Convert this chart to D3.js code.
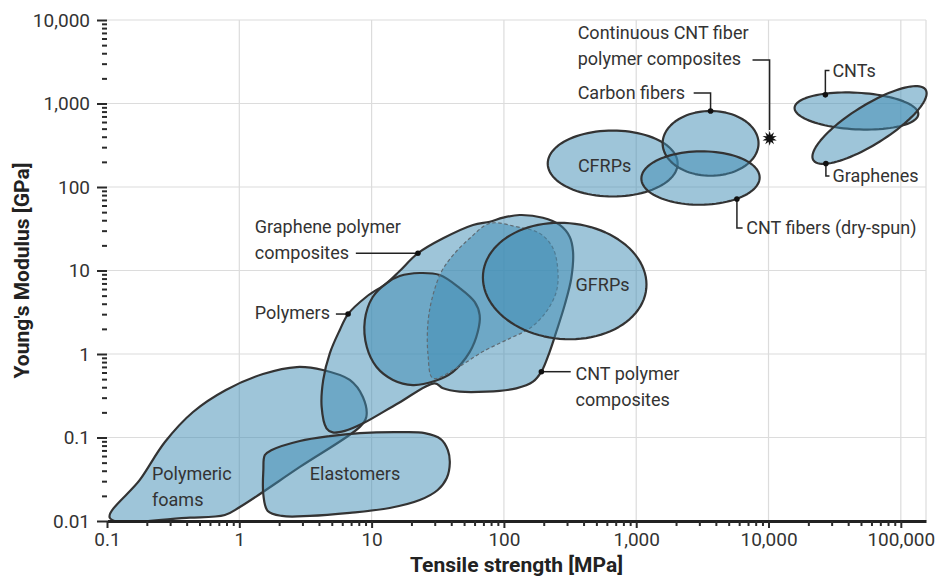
<!DOCTYPE html>
<html>
<head>
<meta charset="utf-8">
<script src="https://cdn.jsdelivr.net/npm/d3@7"></script>
<style>
  body { margin: 0; background: #fff; }
  text { font-family: Roboto, "Noto Sans", "DejaVu Sans", sans-serif; }
</style>
</head>
<body>
<svg id="chart" width="935" height="577"></svg>
<script>
// ---- Axis ticks -------------------------------------------------------
const strengthTicks = [0.1, 1, 10, 100, 1000, 10000, 100000];      // MPa
const modulusTicks  = [0.01, 0.1, 1, 10, 100, 1000, 10000];         // GPa

// ---- Material property regions: [tensile strength MPa, Young's modulus GPa]
const polymericFoams = [
  [0.105, 0.0109], [0.177, 0.031], [0.274, 0.0883], [0.447, 0.202], [0.792, 0.371],
  [1.51, 0.575], [2.72, 0.698], [4.28, 0.643], [6.84, 0.489], [8.59, 0.305],
  [9.12, 0.176], [8.15, 0.134], [2.87, 0.0444], [1.01, 0.0147], [0.778, 0.0118],
  [0.424, 0.0110]
];
const elastomers = [
  [1.52, 0.0408], [1.56, 0.0617], [1.76, 0.0708], [2.87, 0.0908], [4.83, 0.104],
  [8.15, 0.113], [16.3, 0.116], [25.2, 0.113], [33.3, 0.0959], [37.7, 0.0708],
  [39.0, 0.0495], [37.0, 0.0327], [31.6, 0.0235], [23.1, 0.0178], [13.7, 0.0143],
  [6.84, 0.0125], [3.41, 0.0115], [2.10, 0.0115], [1.64, 0.0132], [1.52, 0.0205]
];
// envelope of polymers and their graphene / CNT composites
const polymerEnvelope = [
  [4.56, 0.129], [4.19, 0.234], [4.31, 0.489], [4.83, 1.02], [5.75, 1.94],
  [6.64, 3.01], [9.14, 4.85], [12.97, 7.03], [16.3, 9.86], [22.4, 16.1],
  [34.7, 24.3], [58.4, 35.1], [78.2, 38.4], [98.5, 42.9], [131.5, 46.2],
  [197, 42.9], [264, 35.1], [314, 25.4], [333, 16.8], [323, 8.07],
  [288, 3.86], [249, 1.85], [222, 1.07], [192, 0.614], [166, 0.466],
  [124, 0.388], [73.8, 0.354], [46.3, 0.354], [34.7, 0.388], [30.0, 0.446],
  [16.0, 0.259], [8.63, 0.148], [6.28, 0.120], [5.09, 0.115]
];
const polymerCore = [
  [8.89, 2.55], [10.2, 4.82], [13.0, 7.08], [16.3, 8.59], [23.1, 9.33],
  [32.7, 8.83], [46.3, 6.17], [60.1, 4.20], [65.6, 2.93], [63.4, 1.83],
  [55.2, 1.06], [41.0, 0.608], [30.0, 0.475], [20.5, 0.425], [14.5, 0.489],
  [10.9, 0.698], [9.2, 1.21]
];
const compositeCore = [
  [78.2, 36.7], [124, 33.5], [186, 27.9], [235, 18.5], [256, 9.68],
  [249, 5.57], [209, 3.21], [157, 2.03], [111, 1.54], [69.5, 1.07],
  [43.7, 0.675], [29.1, 0.512], [26.7, 0.973], [26.7, 2.44], [29.1, 5.09],
  [33.7, 9.68], [41.3, 15.3], [55.2, 24.3]
];

// Elliptical regions: centre (MPa, GPa) and two conjugate half-axes in decades
const gfrps       = { strength: 288,   modulus: 7.48, a: [0.617, -0.0856],  b: [-0.0382, -0.692] };
const cfrps       = { strength: 664,   modulus: 191,  a: [0.491, 0],        b: [0, 0.395] };
const carbonFiber = { strength: 3648,  modulus: 333,  a: [0.3625, 0],       b: [0, 0.388] };
const cntFiber    = { strength: 3062,  modulus: 128,  a: [0.447, 0.006],    b: [0, 0.320] };
const cnts        = { strength: 46200, modulus: 813,  a: [0.4676, -0.0389], b: [0.0072, 0.2189] };
const graphenes   = { strength: 58000, modulus: 553,  a: [0.4245, 0.4216],  b: [0.0782, -0.1977] };

// Single measured material
const continuousCntComposite = [10200, 383];

// ---- Chart --------------------------------------------------------------
const svg = d3.select("#chart");
const x = d3.scaleLog().domain([0.1, 155000]).range([107, 926]);
const y = d3.scaleLog().domain([0.01, 10000]).range([521, 20]);
const fmt = d3.format(",");

// grid
const gridColor = "#dcdcdc";
svg.append("g").selectAll("line")
  .data(modulusTicks.slice(1))
  .join("line")
  .attr("x1", x.range()[0]).attr("x2", x.range()[1])
  .attr("y1", d => y(d)).attr("y2", d => y(d))
  .attr("stroke", gridColor).attr("stroke-width", 1.2);
svg.append("g").selectAll("line")
  .data(strengthTicks.slice(1).concat([x.domain()[1]]))
  .join("line")
  .attr("x1", d => x(d)).attr("x2", d => x(d))
  .attr("y1", y.range()[0]).attr("y2", y.range()[1])
  .attr("stroke", gridColor).attr("stroke-width", 1.2);

// regions
const outline = d3.line()
  .x(d => x(d[0])).y(d => y(d[1]))
  .curve(d3.curveCatmullRomClosed.alpha(0.5));
const ring = d3.line()
  .x(d => x(d[0])).y(d => y(d[1]))
  .curve(d3.curveLinearClosed);

function ellipsePoints(e, n = 96) {
  const pts = [];
  for (let i = 0; i < n; i++) {
    const t = 2 * Math.PI * i / n;
    const dx = e.a[0] * Math.cos(t) + e.b[0] * Math.sin(t);
    const dy = e.a[1] * Math.cos(t) + e.b[1] * Math.sin(t);
    pts.push([e.strength * Math.pow(10, dx), e.modulus * Math.pow(10, dy)]);
  }
  return pts;
}

const fillColor = "#3d8bb3";
const strokeColor = "#333";
const layers = [
  { d: outline(polymericFoams) },
  { d: outline(elastomers) },
  { d: outline(polymerEnvelope) },
  { d: outline(polymerCore) },
  { d: outline(compositeCore), dashed: true },
  { d: ring(ellipsePoints(gfrps)) },
  { d: ring(ellipsePoints(cfrps)) },
  { d: ring(ellipsePoints(carbonFiber)) },
  { d: ring(ellipsePoints(cntFiber)) },
  { d: ring(ellipsePoints(cnts)) },
  { d: ring(ellipsePoints(graphenes)) }
];
const gRegions = svg.append("g");
layers.forEach(l => {
  gRegions.append("path")
    .attr("d", l.d)
    .attr("fill", fillColor)
    .attr("fill-opacity", 0.5)
    .attr("stroke", l.dashed ? "#5f6b73" : strokeColor)
    .attr("stroke-width", l.dashed ? 1.2 : 2.2)
    .attr("stroke-dasharray", l.dashed ? "3.5,2.5" : null)
    .attr("stroke-linejoin", "round");
});

// axes
const minorOf = (majors, maxV) => majors.flatMap(m => d3.range(2, 10).map(k => m * k)).filter(v => v < maxV);

const gy = svg.append("g").attr("transform", `translate(${x.range()[0]},0)`);
gy.call(d3.axisLeft(y).tickValues(modulusTicks).tickFormat(fmt).tickSize(10).tickPadding(7));
gy.append("g").call(d3.axisLeft(y).tickValues(minorOf(modulusTicks, 10000)).tickFormat("").tickSize(5))
  .select(".domain").remove();
gy.select(".domain").remove();

const gx = svg.append("g").attr("transform", `translate(0,${y.range()[0]})`);
gx.call(d3.axisBottom(x).tickValues(strengthTicks).tickFormat(fmt).tickSize(7).tickSizeOuter(0).tickPadding(5));
gx.append("g").call(d3.axisBottom(x).tickValues(minorOf(strengthTicks, x.domain()[1])).tickFormat("").tickSize(5))
  .select(".domain").remove();
gx.select(".domain").attr("stroke", "#222").attr("stroke-width", 3);

svg.selectAll(".tick line").attr("stroke", "#2a2a2a").attr("stroke-width", 2);
svg.selectAll(".tick text")
  .attr("fill", "#333")
  .style("font-size", "19px")
  .style("font-family", "Roboto, 'Noto Sans', sans-serif");

// axis titles
svg.append("text")
  .attr("x", (x.range()[0] + x.range()[1]) / 2).attr("y", 572)
  .attr("text-anchor", "middle")
  .style("font-size", "21px").style("font-weight", 700).attr("fill", "#222")
  .text("Tensile strength [MPa]");
svg.append("text")
  .attr("transform", `translate(29,${(y.range()[0] + y.range()[1]) / 2}) rotate(-90)`)
  .attr("text-anchor", "middle")
  .style("font-size", "21px").style("font-weight", 700).attr("fill", "#222")
  .text("Young's Modulus [GPa]");

// single-material marker
const burst = [];
for (let i = 0; i < 20; i++) {
  const r = i % 2 === 0 ? 7.5 : 3.6;
  const ang = Math.PI * i / 10 - Math.PI / 2;
  burst.push([r * Math.cos(ang), r * Math.sin(ang)]);
}
svg.append("path")
  .attr("transform", `translate(${x(continuousCntComposite[0])},${y(continuousCntComposite[1])})`)
  .attr("d", d3.line().curve(d3.curveLinearClosed)(burst))
  .attr("fill", "#111");

// labels with leader lines
const annotations = [
  { lines: ["Continuous CNT fiber", "polymer composites"], at: [361, 6980],
    leader: [[7570, 3320], [10190, 3320], [10190, 482]] },
  { lines: ["Carbon fibers"], at: [361, 1337],
    leader: [[2718, 1337], [3648, 1337], [3648, 814]], dot: [3648, 814] },
  { lines: ["CNTs"], at: [30400, 2483],
    leader: [[26900, 1270], [26900, 2483], [28900, 2483]], dot: [26900, 1270] },
  { lines: ["Graphenes"], at: [30400, 135.6],
    leader: [[27150, 191], [27150, 135.6], [28900, 135.6]], dot: [27150, 191] },
  { lines: ["CNT fibers (dry-spun)"], at: [6790, 32.3],
    leader: [[5770, 71.8], [5770, 32.3], [6370, 32.3]], dot: [5770, 71.8] },
  { lines: ["Graphene polymer", "composites"], at: [1.31, 33.5],
    leader: [[7.60, 16.1], [22.4, 16.1]], dot: [22.4, 16.1] },
  { lines: ["Polymers"], at: [1.31, 3.10],
    leader: [[5.37, 3.01], [6.64, 3.01]], dot: [6.64, 3.01] },
  { lines: ["CNT polymer", "composites"], at: [348, 0.583],
    leader: [[192, 0.614], [320, 0.614]], dot: [192, 0.614] },
  { lines: ["CFRPs"], at: [577, 180], anchor: "middle" },
  { lines: ["GFRPs"], at: [557, 6.7], anchor: "middle" },
  { lines: ["Elastomers"], at: [3.41, 0.0366] },
  { lines: ["Polymeric", "foams"], at: [0.219, 0.0366] }
];

const gAnn = svg.append("g");
const leaderLine = d3.line().x(d => x(d[0])).y(d => y(d[1]));
annotations.forEach(a => {
  if (a.leader) {
    gAnn.append("path").attr("d", leaderLine(a.leader))
      .attr("fill", "none").attr("stroke", "#222").attr("stroke-width", 1.5);
  }
  if (a.dot) {
    gAnn.append("circle").attr("cx", x(a.dot[0])).attr("cy", y(a.dot[1]))
      .attr("r", 2.8).attr("fill", "#111");
  }
  const t = gAnn.append("text")
    .attr("x", x(a.at[0])).attr("y", y(a.at[1]))
    .attr("text-anchor", a.anchor || "start")
    .attr("fill", "#333")
    .style("font-size", "18px");
  a.lines.forEach((s, i) => {
    t.append("tspan").attr("x", x(a.at[0]))
      .attr("dy", i === 0 ? "0.35em" : "26px")
      .text(s);
  });
});
</script>
</body>
</html>
